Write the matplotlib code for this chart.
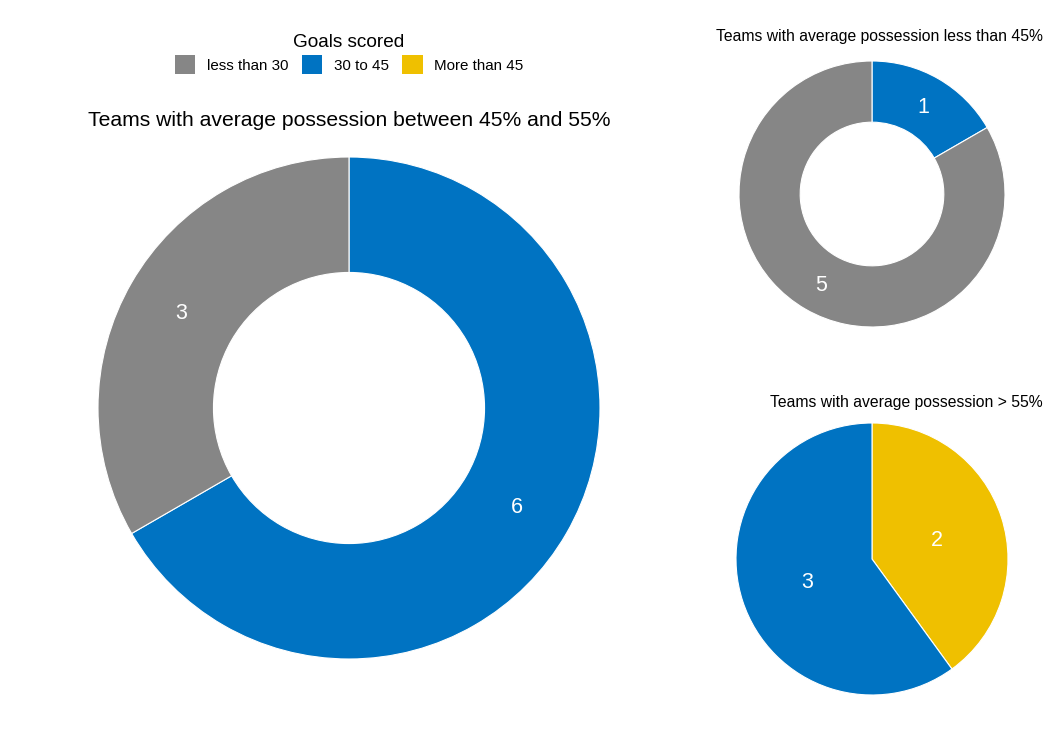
import numpy as np
import matplotlib.pyplot as plt
from matplotlib.patches import Patch

plt.rcParams['font.family'] = ['Liberation Sans', 'DejaVu Sans']

# goal bands and their colours
categories = ["less than 30", "30 to 45", "More than 45"]
colors = {"less than 30": "#868686", "30 to 45": "#0073C2", "More than 45": "#EFC000"}

# slices listed clockwise from 12 o'clock
mid_cats = ["30 to 45", "less than 30"]
mid_vals = [6, 3]
low_cats = ["30 to 45", "less than 30"]
low_vals = [1, 5]
high_cats = ["More than 45", "30 to 45"]
high_vals = [2, 3]

W, H = 1047, 731
fig = plt.figure(figsize=(W / 100, H / 100), dpi=100)


def add_pie(cx, cy, r, cats, vals, hole):
    ax = fig.add_axes([(cx - r) / W, (H - cy - r) / H, 2 * r / W, 2 * r / H])
    width = 1 - hole if hole else 1
    label_r = 1 - width / 2 if hole else 0.5
    ax.pie(vals, colors=[colors[c] for c in cats], startangle=90, counterclock=False,
           radius=1, wedgeprops=dict(width=width, edgecolor="white", linewidth=0.8))
    total = sum(vals)
    start = 0.0
    for v in vals:
        mid = (start + v / 2) / total * 2 * np.pi
        ax.text(label_r * np.sin(mid), label_r * np.cos(mid), str(v), color="white",
                fontsize=15.5, ha="center", va="center_baseline")
        start += v
    ax.set_xlim(-1, 1)
    ax.set_ylim(-1, 1)
    ax.set_axis_off()
    return ax


add_pie(349, 408, 251, mid_cats, mid_vals, 0.54)
add_pie(872, 194, 133, low_cats, low_vals, 0.54)
add_pie(872, 559, 136, high_cats, high_vals, None)

fig.text(349 / W, 1 - 121 / H, "Teams with average possession between 45% and 55%",
         ha="center", va="center", fontsize=15.2)
fig.text(1043 / W, 1 - 37 / H, "Teams with average possession less than 45%",
         ha="right", va="center", fontsize=11.3)
fig.text(1043 / W, 1 - 402 / H, "Teams with average possession > 55%",
         ha="right", va="center", fontsize=11.3)

handles = [Patch(facecolor=colors[c], edgecolor="none") for c in categories]
leg = fig.legend(handles, categories, loc="center", bbox_to_anchor=(349 / W, 1 - 54 / H),
                 ncol=3, frameon=False, title="Goals scored", fontsize=10.9,
                 title_fontsize=13.7, handlelength=1.35, handleheight=1.6,
                 columnspacing=0.9, handletextpad=0.75, borderpad=0.2, labelspacing=0.3)

fig.savefig("out.png", dpi=100, facecolor="white")
